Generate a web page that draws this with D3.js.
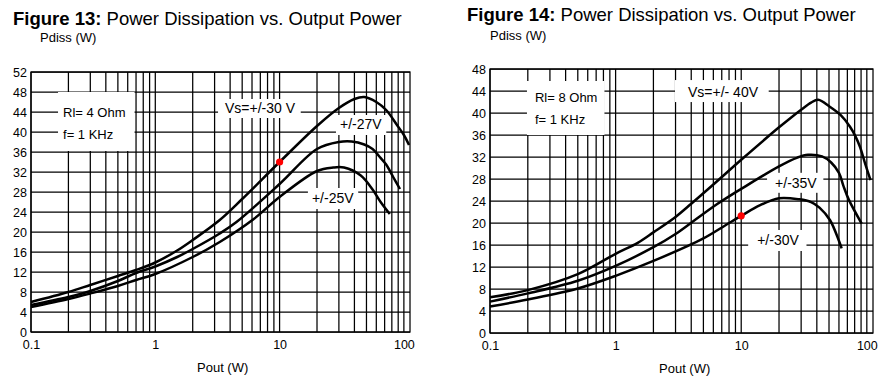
<!DOCTYPE html>
<html>
<head>
<meta charset="utf-8">
<script src="https://cdn.jsdelivr.net/npm/d3@7/dist/d3.min.js"></script>
<style>
  body { margin: 0; background: #fff; }
  svg { display: block; font-family: 'Liberation Sans', Arial, Helvetica, sans-serif; }
  .grid line, .frame { stroke: #000; stroke-width: 1.25; fill: none; }
  .curve { fill: none; stroke: #000; stroke-width: 2.5; stroke-linejoin: round; }
  .tick text { font-size: 12.5px; fill: #000; }
  .title { font-size: 18.5px; }
  .unit { font-size: 13px; }
  .note { font-size: 13px; }
  .vlabel { font-size: 14px; }
</style>
</head>
<body>
<svg id="chart" width="880" height="383"></svg>
<script>

// ---- data (Pout in W, Pdiss in W) ----
var poutTicks = [0.1, 1, 10, 100];
var fig13PdissTicks = [0, 4, 8, 12, 16, 20, 24, 28, 32, 36, 40, 44, 48, 52];
var fig14PdissTicks = [0, 4, 8, 12, 16, 20, 24, 28, 32, 36, 40, 44, 48];

// Figure 13, Rl = 4 Ohm
var fig13Vs30 = [[0.1,6.0],[0.2,8.0],[0.3,9.4],[0.5,11.2],[0.7,12.4],[1,13.9],[1.5,16.3],[2,18.4],[3.3,22.4],[5,26.6],
                 [10,34],[20,41.2],[30,44.8],[40,46.6],[48,47.0],[60,46.0],[72,44.4],[88,41.4],[100,39.4],[110,37.4]];
var fig13Vs27 = [[0.1,5.4],[0.2,7.0],[0.3,8.2],[0.5,10.2],[0.7,11.8],[1,13.1],[1.5,15.0],[2,16.6],[3.3,19.7],[4.5,22.0],
                 [10,29.6],[20,36.6],[30,38.0],[38,38.1],[48,37.5],[56,36.6],[64,35.0],[72,33.5],[82,31.0],[93,28.6]];
var fig13Vs25 = [[0.1,5.0],[0.2,6.6],[0.3,7.7],[0.5,9.2],[0.7,10.4],[1,11.6],[2,15.0],[3.3,18.0],[6.2,22.6],
                 [10,27.0],[20,32.2],[27,32.9],[33,32.9],[45,31.3],[56,28.5],[65,26.0],[77,23.6]];
var fig13Marker = [[10, 34]];

// Figure 14, Rl = 8 Ohm
var fig14Vs40 = [[0.1,6.5],[0.2,7.8],[0.5,10.7],[1,14.4],[1.5,16.4],[2,18.3],[3,21.1],[4,23.5],[6,27.0],[10,31.5],[20,37.4],
                 [25,39.2],[30,40.6],[36,41.9],[41,42.4],[51,41.1],[62,39.6],[73.5,37.5],[81,35.8],[88,33.9],[97,30.8],[107,27.8]];
var fig14Vs35 = [[0.1,5.7],[0.2,7.2],[0.5,9.5],[1,12.2],[2,15.6],[3,18.0],[4.2,20.4],[6.4,23.4],[10,26.2],
                 [20,30.3],[28,31.9],[34,32.4],[44,32.1],[52,31.0],[60,29.1],[65,26.8],[72,24.2],[91,19.9]];
var fig14Vs30 = [[0.1,4.8],[0.2,6.1],[0.5,8.1],[1,10.4],[2,13.1],[5,17.2],[7.5,19.6],[10,21.3],[14,23.2],
                 [20,24.5],[29,24.3],[36,23.8],[42,22.8],[51,20.5],[63,15.4]];
var fig14Marker = [[10, 21.3]];


var svg = d3.select('#chart');

function drawChart(opt) {

   var g = svg.append('g');

   var x = d3.scaleLog().domain([0.1, opt.xMax]).range([opt.left, opt.right]);
   var y = d3.scaleLinear().domain([0, opt.yMax]).range([opt.bottom, opt.top]);

   // title
   var title = g.append('text').attr('class', 'title')
      .attr('x', opt.titleX).attr('y', opt.titleY);
   title.append('tspan').attr('font-weight', 'bold').text(opt.titleBold);
   title.append('tspan').text(opt.titleRest);

   g.append('text').attr('class', 'unit')
      .attr('x', opt.left + opt.pdissDx).attr('y', opt.pdissY)
      .text('Pdiss (W)');

   // grid
   var grid = g.append('g').attr('class', 'grid');
   grid.selectAll('line.v')
      .data(x.ticks())
      .join('line').attr('class', 'v')
      .attr('x1', d => x(d)).attr('x2', d => x(d))
      .attr('y1', opt.top).attr('y2', opt.bottom);
   grid.selectAll('line.h')
      .data(opt.yTicks)
      .join('line').attr('class', 'h')
      .attr('x1', opt.left).attr('x2', opt.right)
      .attr('y1', d => y(d)).attr('y2', d => y(d));
   g.append('rect').attr('class', 'frame')
      .attr('x', opt.left).attr('y', opt.top)
      .attr('width', opt.right - opt.left).attr('height', opt.bottom - opt.top);

   // axes: labels only, the grid does the lines
   g.append('g')
      .attr('transform', 'translate(0,' + opt.bottom + ')')
      .call(d3.axisBottom(x).tickValues(poutTicks).tickFormat(d3.format('~g')).tickSize(0).tickPadding(opt.xPad))
      .call(a => a.select('.domain').remove());
   g.append('g')
      .attr('transform', 'translate(' + opt.left + ',0)')
      .call(d3.axisLeft(y).tickValues(opt.yTicks).tickSize(0).tickPadding(4))
      .call(a => a.select('.domain').remove());

   g.append('text').attr('class', 'unit')
      .attr('x', opt.left + opt.poutDx).attr('y', opt.bottom + 40)
      .text('Pout (W)');

   // white label boxes, then text
   opt.notes.forEach(function (n) {
      var box = g.append('rect').attr('fill', '#fff');
      var t = g.append('text').attr('class', n.cls)
         .attr('x', x(n.at[0])).attr('y', y(n.at[1]));
      n.lines.forEach(function (s, i) {
         t.append('tspan').attr('x', x(n.at[0])).attr('dy', i ? n.lineGap : 0).text(s);
      });
      var b = t.node().getBBox();
      var p = n.pad;   // top, right, bottom, left
      box.attr('x', b.x - p[3]).attr('y', b.y - p[0])
         .attr('width', b.width + p[1] + p[3]).attr('height', b.height + p[0] + p[2]);
   });

   // curves
   var line = d3.line()
      .x(d => x(d[0]))
      .y(d => y(d[1]))
      .curve(d3.curveCatmullRom.alpha(0.5));

   g.selectAll('path.curve')
      .data(opt.series)
      .join('path').attr('class', 'curve')
      .attr('d', line);

   g.selectAll('circle.marker')
      .data(opt.marker)
      .join('circle').attr('class', 'marker')
      .attr('cx', d => x(d[0])).attr('cy', d => y(d[1]))
      .attr('r', 3.6).attr('fill', '#ff0000');
}

drawChart({
   titleBold: 'Figure 13:', titleRest: ' Power Dissipation vs. Output Power', titleX: 13, titleY: 25,
   left: 31, right: 410, top: 72, bottom: 332, xMax: 112, yMax: 52, xPad: 8, poutDx: 166,
   pdissDx: 9, pdissY: 42,
   yTicks: fig13PdissTicks,
   series: [fig13Vs30, fig13Vs27, fig13Vs25],
   marker: fig13Marker,
   notes: [
      { lines: ['Rl= 4 Ohm', 'f= 1 KHz'], at: [0.181, 43.0], lineGap: 22, cls: 'note', pad: [13, 9, 9, 5] },
      { lines: ['Vs=+/-30 V'], at: [3.64, 43.8], cls: 'vlabel', pad: [1, 5, 2, 7] },
      { lines: ['+/-27V'], at: [30.6, 40.6], cls: 'vlabel', pad: [1, 4, 3, 4] },
      { lines: ['+/-25V'], at: [18.2, 25.8], cls: 'vlabel', pad: [2, 4, 3, 4] }
   ]
});

drawChart({
   titleBold: 'Figure 14:', titleRest: ' Power Dissipation vs. Output Power', titleX: 467, titleY: 21,
   left: 490, right: 873, top: 69, bottom: 333, xMax: 112, yMax: 48, xPad: 8, poutDx: 169,
   pdissDx: 0, pdissY: 40,
   yTicks: fig14PdissTicks,
   series: [fig14Vs40, fig14Vs35, fig14Vs30],
   marker: fig14Marker,
   notes: [
      { lines: ['Rl= 8 Ohm', 'f= 1 KHz'], at: [0.228, 42.0], lineGap: 22, cls: 'note', pad: [9, 7, 8, 8] },
      { lines: ['Vs=+/- 40V'], at: [3.77, 42.9], cls: 'vlabel', pad: [4, 10, 2, 13] },
      { lines: ['+/-35V'], at: [18.6, 26.4], cls: 'vlabel', pad: [2, 6, 2, 8] },
      { lines: ['+/-30V'], at: [13.4, 16.0], cls: 'vlabel', pad: [2, 7, 3, 9] }
   ]
});

</script>
</body>
</html>
